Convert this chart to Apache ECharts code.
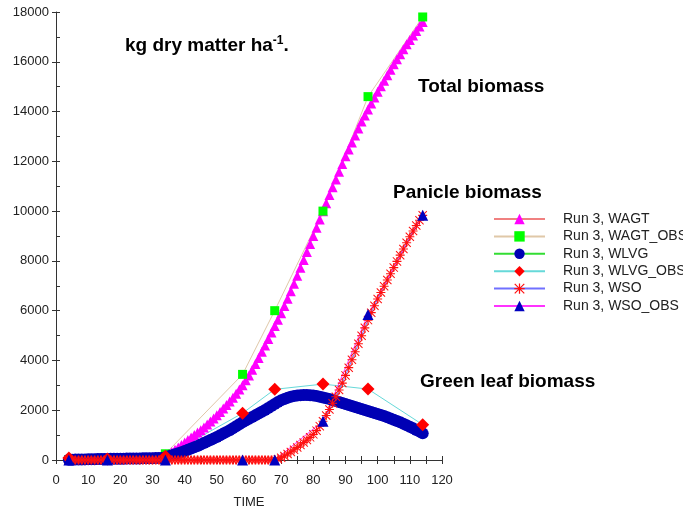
<!DOCTYPE html>
<html>
<head>
<meta charset="utf-8">
<title>Run 3 biomass</title>
<script src="https://cdn.jsdelivr.net/npm/echarts@6/dist/echarts.min.js"></script>
<style>
  html, body { margin: 0; padding: 0; background: #fff; }
  #chart { width: 683px; height: 514px; }
</style>
</head>
<body>
<div id="chart"></div>
<script>
// simulated values, one per day starting at day 4
const firstDay = 4;
const wagt = [
  20, 25, 30, 35, 40, 45, 50, 55, 60, 65,
  70, 72, 75, 78, 80, 83, 86, 88, 90, 93,
  96, 98, 100, 104, 108, 112, 116, 120, 126, 132,
  170, 240, 320, 410, 500, 600, 700, 800, 900, 1000,
  1100, 1200, 1310, 1430, 1550, 1670, 1800, 1930, 2070, 2210,
  2350, 2500, 2660, 2830, 3000, 3200, 3400, 3630, 3860, 4100,
  4350, 4600, 4860, 5120, 5380, 5640, 5900, 6190, 6480, 6780,
  7080, 7400, 7720, 8040, 8360, 8680, 9000, 9330, 9660, 9990,
  10320, 10650, 10960, 11270, 11580, 11890, 12200, 12480, 12760, 13040,
  13320, 13600, 13840, 14080, 14320, 14560, 14800, 15020, 15240, 15460,
  15680, 15900, 16100, 16300, 16500, 16700, 16880, 17060, 17240, 17420,
  17600
];
const wlvg = [
  10, 13, 16, 19, 22, 25, 28, 31, 34, 37,
  40, 42, 44, 46, 48, 50, 52, 54, 56, 58,
  60, 62, 64, 66, 68, 70, 73, 76, 80, 85,
  110, 150, 190, 230, 270, 310, 360, 410, 460, 510,
  560, 620, 680, 740, 800, 860, 920, 990, 1060, 1130,
  1200, 1280, 1360, 1440, 1520, 1590, 1660, 1730, 1800, 1870,
  1940, 2010, 2090, 2170, 2250, 2330, 2400, 2450, 2500, 2540,
  2570, 2590, 2600, 2610, 2610, 2600, 2590, 2570, 2540, 2510,
  2480, 2450, 2410, 2370, 2330, 2290, 2250, 2210, 2170, 2130,
  2090, 2050, 2010, 1970, 1930, 1890, 1850, 1810, 1770, 1720,
  1670, 1620, 1570, 1520, 1460, 1400, 1340, 1280, 1210, 1140,
  1070
];
const wso = [
  0, 0, 0, 0, 0, 0, 0, 0, 0, 0,
  0, 0, 0, 0, 0, 0, 0, 0, 0, 0,
  0, 0, 0, 0, 0, 0, 0, 0, 0, 0,
  0, 0, 0, 0, 0, 0, 0, 0, 0, 0,
  0, 0, 0, 0, 0, 0, 0, 0, 0, 0,
  0, 0, 0, 0, 0, 0, 0, 0, 0, 0,
  0, 0, 0, 0, 0,
  30, 90, 160, 240, 320, 410, 500, 600, 700, 800,
  910, 1030, 1180, 1360, 1560, 1790, 2030, 2280, 2540, 2810,
  3090, 3400, 3710, 4030, 4350, 4670, 4990, 5310, 5620, 5920,
  6200, 6470, 6730, 6980, 7230, 7480, 7730, 7980, 8230, 8480,
  8730, 8970, 9200, 9420, 9630, 9830
];

// field observations
const obsDays = [4, 16, 34, 58, 68, 83, 97, 114];
const wagtObs = [20, 40, 250, 3440, 6000, 10000, 14600, 17800];
const wlvgObs = [80, 40, 150, 1880, 2840, 3050, 2850, 1420];
const wsoObs = [0, 0, 0, 0, 0, 1560, 5850, 9830];

const font = 'Liberation Sans, Arial, sans-serif';
// red asterisk marker
const asterisk = 'path://M0 4.4L10 4.4L10 5.6L0 5.6Z M4.4 0L5.6 0L5.6 10L4.4 10Z ' +
  'M0 0.8L0.8 0L10 9.2L9.2 10Z M9.2 0L10 0.8L0.8 10L0 9.2Z';

function daily(values) {
  return values.map((v, i) => [firstDay + i, v]);
}
function observed(values) {
  return values.map((v, i) => [obsDays[i], v]);
}

function line(name, data, symbol, size, markColor, lineColor) {
  return {
    name,
    type: 'line',
    data,
    symbol,
    symbolSize: size,
    showAllSymbol: true,
    clip: false,
    silent: true,
    itemStyle: { color: markColor, opacity: 1 },
    lineStyle: { color: lineColor, width: 1 },
    emphasis: { disabled: true },
  };
}

const chart = echarts.init(document.getElementById('chart'));
chart.setOption({
  animation: false,
  backgroundColor: '#fff',
  textStyle: { fontFamily: font },
  grid: { left: 56, right: 241, top: 12, bottom: 52 },
  legend: {
    orient: 'vertical',
    left: 488,
    top: 207,
    itemWidth: 51,
    itemHeight: 13,
    itemGap: 3.4,
    lineStyle: { width: 2 },
    textStyle: { fontSize: 14, color: '#222', fontFamily: font, padding: [0, 0, 0, 13] },
    selectedMode: false,
  },
  xAxis: [
    {
      type: 'value',
      min: 0,
      max: 120,
      interval: 10,
      name: 'TIME',
      nameLocation: 'middle',
      nameGap: 36,
      nameTextStyle: { fontSize: 13, color: '#222' },
      axisLine: { onZero: false, lineStyle: { color: '#333' } },
      axisTick: { length: 4, lineStyle: { color: '#333' } },
      minorTick: { show: true, splitNumber: 2, length: 4, lineStyle: { color: '#333' } },
      axisLabel: { fontSize: 13, color: '#222', margin: 14 },
      splitLine: { show: false },
    },
    {
      // inner half of the ticks
      type: 'value',
      position: 'bottom',
      min: 0,
      max: 120,
      interval: 5,
      axisLine: { show: false },
      axisTick: { inside: true, length: 4, lineStyle: { color: '#333' } },
      axisLabel: { show: false },
      splitLine: { show: false },
    },
  ],
  yAxis: [
    {
      type: 'value',
      min: 0,
      max: 18000,
      interval: 2000,
      axisLine: { show: true, lineStyle: { color: '#333' } },
      axisTick: { show: true, length: 4, lineStyle: { color: '#333' } },
      axisLabel: { fontSize: 13, color: '#222', margin: 7, formatter: (v) => String(v) },
      splitLine: { show: false },
    },
    {
      type: 'value',
      position: 'left',
      min: 0,
      max: 18000,
      interval: 1000,
      axisLine: { show: false },
      axisTick: { show: true, inside: true, length: 4, lineStyle: { color: '#333' } },
      axisLabel: { show: false },
      splitLine: { show: false },
    },
  ],
  graphic: [
    {
      type: 'text',
      x: 125,
      y: 46,
      style: {
        text: '{a|kg dry matter ha}{s|-1}{a|.}',
        verticalAlign: 'middle',
        fill: '#000',
        rich: {
          a: { fontSize: 19, fontWeight: 'bold', fontFamily: font, lineHeight: 22 },
          s: { fontSize: 12, fontWeight: 'bold', fontFamily: font, lineHeight: 22, verticalAlign: 'top' },
        },
      },
    },
    { type: 'text', x: 418, y: 87, style: { text: 'Total biomass', font: 'bold 19px ' + font, fill: '#000', verticalAlign: 'middle' } },
    { type: 'text', x: 393, y: 193, style: { text: 'Panicle biomass', font: 'bold 19px ' + font, fill: '#000', verticalAlign: 'middle' } },
    { type: 'text', x: 420, y: 382, style: { text: 'Green leaf biomass', font: 'bold 19px ' + font, fill: '#000', verticalAlign: 'middle' } },
  ],
  series: [
    line('Run 3, WAGT', daily(wagt), 'triangle', 10, '#ff00ff', '#f08080'),
    line('Run 3, WAGT_OBS', observed(wagtObs), 'rect', 9, '#00ff00', '#e0c8a8'),
    line('Run 3, WLVG', daily(wlvg), 'circle', 12, '#0000b4', '#33dd33'),
    line('Run 3, WLVG_OBS', observed(wlvgObs), 'diamond', 13, '#ff0000', '#66d9d9'),
    line('Run 3, WSO', daily(wso), asterisk, 9, '#ff1010', '#7070ff'),
    line('Run 3, WSO_OBS', observed(wsoObs), 'triangle', 11, '#0000c0', '#ff33ff'),
  ],
});
</script>
</body>
</html>
